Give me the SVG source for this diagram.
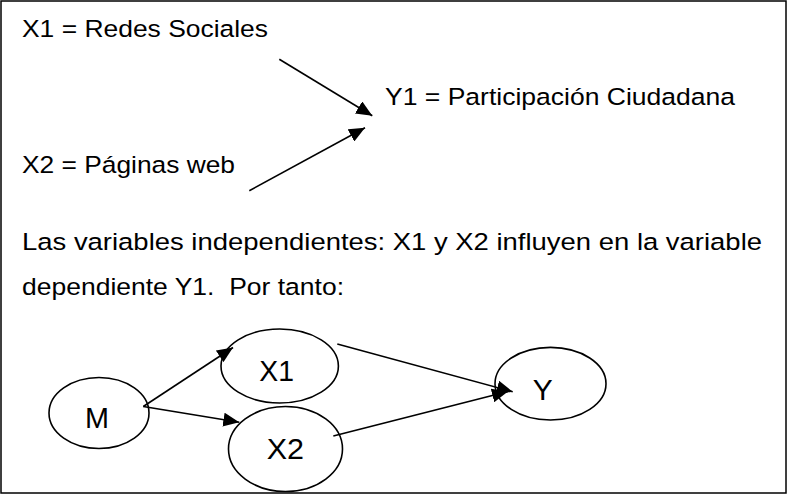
<svg xmlns="http://www.w3.org/2000/svg" width="787" height="495" viewBox="0 0 787 495">
  <style>
    .t { font-family: "Liberation Sans", Arial, sans-serif; font-size: 24.5px; fill: #000; }
    .lbl { font-family: "Liberation Sans", Arial, sans-serif; font-size: 30px; fill: #000; }
    .node ellipse { fill: #fff; stroke: #000; stroke-width: 1.6; }
    .conn line { stroke: #000; stroke-width: 1.6; fill: none; }
  </style>
  <defs>
    <marker id="arr" viewBox="0 0 16 14" refX="16" refY="7" markerWidth="16" markerHeight="14" markerUnits="userSpaceOnUse" orient="auto">
      <path d="M0,0 L16,7 L0,14 z" fill="#000"/>
    </marker>
  </defs>
  <rect x="1" y="1" width="785" height="492" fill="#fff" stroke="#000" stroke-width="1.5"/>

  <g id="text-block">
    <text class="t" x="22" y="37" textLength="246" lengthAdjust="spacingAndGlyphs">X1 = Redes Sociales</text>
    <text class="t" x="385" y="105" textLength="350" lengthAdjust="spacingAndGlyphs">Y1 = Participación Ciudadana</text>
    <text class="t" x="22" y="172.5" textLength="213" lengthAdjust="spacingAndGlyphs">X2 = Páginas web</text>
    <text class="t" x="22" y="250" textLength="740" lengthAdjust="spacingAndGlyphs">Las variables independientes: X1 y X2 influyen en la variable</text>
    <text class="t" x="22" y="295" textLength="322" lengthAdjust="spacingAndGlyphs" xml:space="preserve">dependiente Y1.  Por tanto:</text>
  </g>

  <g id="node-M" class="node">
    <ellipse cx="99" cy="413" rx="50" ry="35.5"/>
    <text class="lbl" x="85" y="428" textLength="24" lengthAdjust="spacingAndGlyphs">M</text>
  </g>
  <g id="node-X1" class="node">
    <ellipse cx="279.7" cy="366" rx="58.7" ry="37"/>
    <text class="lbl" x="259.3" y="381" textLength="34.7" lengthAdjust="spacingAndGlyphs">X1</text>
  </g>
  <g id="node-X2" class="node">
    <ellipse cx="285.5" cy="449" rx="57" ry="42.5"/>
    <text class="lbl" x="266.7" y="459.3" textLength="37.3" lengthAdjust="spacingAndGlyphs">X2</text>
  </g>
  <g id="node-Y" class="node">
    <ellipse cx="550.5" cy="383.7" rx="55.5" ry="36.3"/>
    <text class="lbl" x="532.7" y="400" textLength="20" lengthAdjust="spacingAndGlyphs">Y</text>
  </g>

  <g id="connectors" class="conn">
    <line x1="279.3" y1="59.3" x2="372.3" y2="115.7" marker-end="url(#arr)"/>
    <line x1="249.3" y1="190.7" x2="365" y2="127.7" marker-end="url(#arr)"/>
    <line x1="143.3" y1="406.5" x2="233" y2="347.5" marker-end="url(#arr)"/>
    <line x1="143.3" y1="406.5" x2="239.3" y2="422.2" marker-end="url(#arr)"/>
    <line x1="337.3" y1="344" x2="512.7" y2="391.7" marker-end="url(#arr)"/>
    <line x1="333.3" y1="436" x2="508" y2="391.5" marker-end="url(#arr)"/>
  </g>
</svg>
